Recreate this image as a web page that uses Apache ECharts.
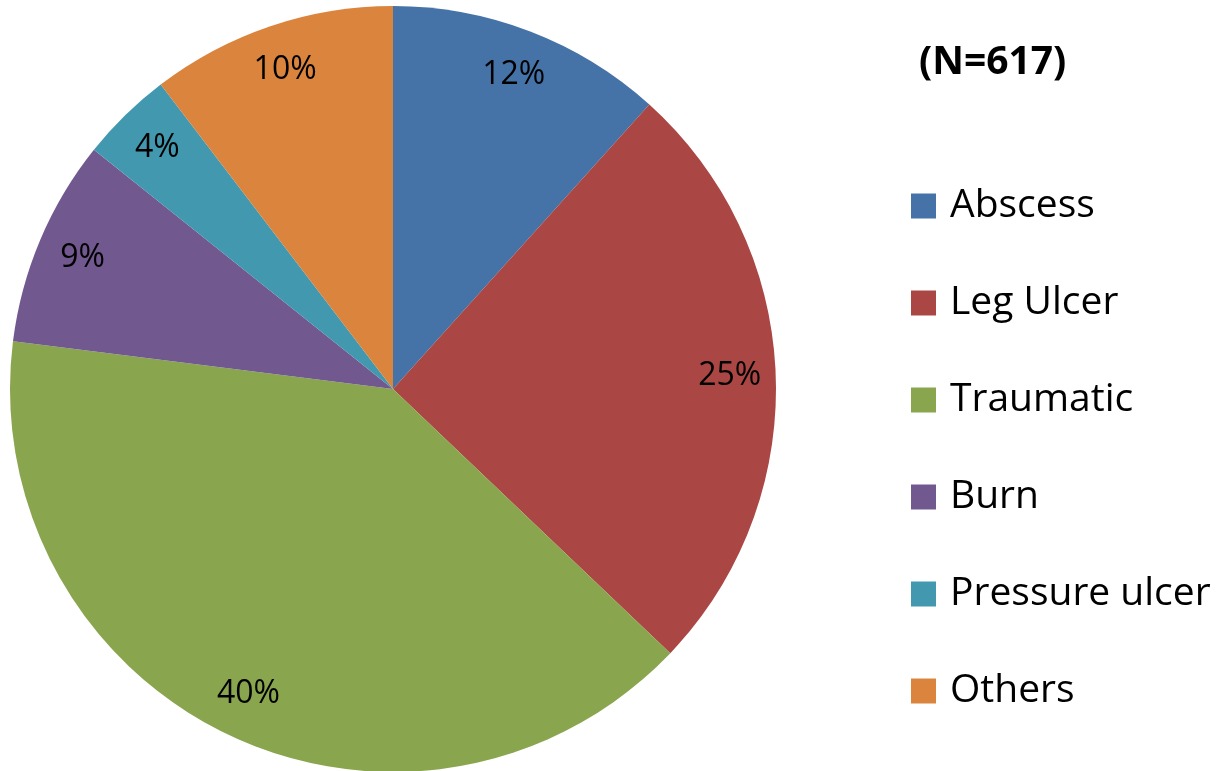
<!DOCTYPE html>
<html>
<head>
<meta charset="utf-8">
<script src="https://cdn.jsdelivr.net/npm/echarts@6/dist/echarts.min.js"></script>
<style>
  html, body { margin: 0; padding: 0; background: #fff; }
  #main { width: 1221px; height: 771px; }
</style>
</head>
<body>
<div id="main"></div>
<script>
// wound types, counts (N=617)
const categories = ['Abscess', 'Leg Ulcer', 'Traumatic', 'Burn', 'Pressure ulcer', 'Others'];
const counts = [72, 157, 246, 54, 24, 64];
const colors = ['#4572A7', '#AA4643', '#89A54E', '#71588F', '#4198AF', '#DB843D'];
const titleText = '(N=617)';

const pieData = categories.map((name, i) => ({ name: name, value: counts[i] }));
const center = [393, 389];

let chart = echarts.init(document.getElementById('main'));
let option = {
  backgroundColor: '#fff',
  animation: false,
  color: colors,
  title: {
    text: titleText,
    left: 914,
    top: 38,
    textStyle: { fontFamily: 'Open Sans', fontWeight: 'bold', fontSize: 39, color: '#000' }
  },
  legend: {
    orient: 'vertical',
    left: 906,
    top: 181,
    itemWidth: 25,
    itemHeight: 25,
    itemGap: 57,
    icon: 'rect',
    data: categories.map((name, i) => ({ name: name, itemStyle: { color: colors[i] } })),
    textStyle: { fontFamily: 'Open Sans', fontSize: 39, lineHeight: 40, color: '#000', padding: [0, 0, 0, 9] }
  },
  series: [
    {
      // the pie itself
      type: 'pie',
      center: center,
      radius: [0, 383],
      startAngle: 90,
      clockwise: true,
      data: pieData,
      label: { show: false },
      labelLine: { show: false },
      emphasis: { disabled: true }
    },
    {
      // transparent ring, only to put the % labels near the rim
      type: 'pie',
      center: center,
      radius: [285, 383],
      startAngle: 90,
      clockwise: true,
      silent: true,
      data: pieData,
      itemStyle: { color: 'rgba(0,0,0,0)' },
      label: {
        show: true,
        position: 'inside',
        fontFamily: 'Open Sans',
        fontSize: 32,
        color: '#000',
        formatter: function (p) { return Math.round(p.percent) + '%'; }
      },
      labelLine: { show: false },
      emphasis: { disabled: true }
    }
  ]
};
chart.setOption(option);
</script>
</body>
</html>
